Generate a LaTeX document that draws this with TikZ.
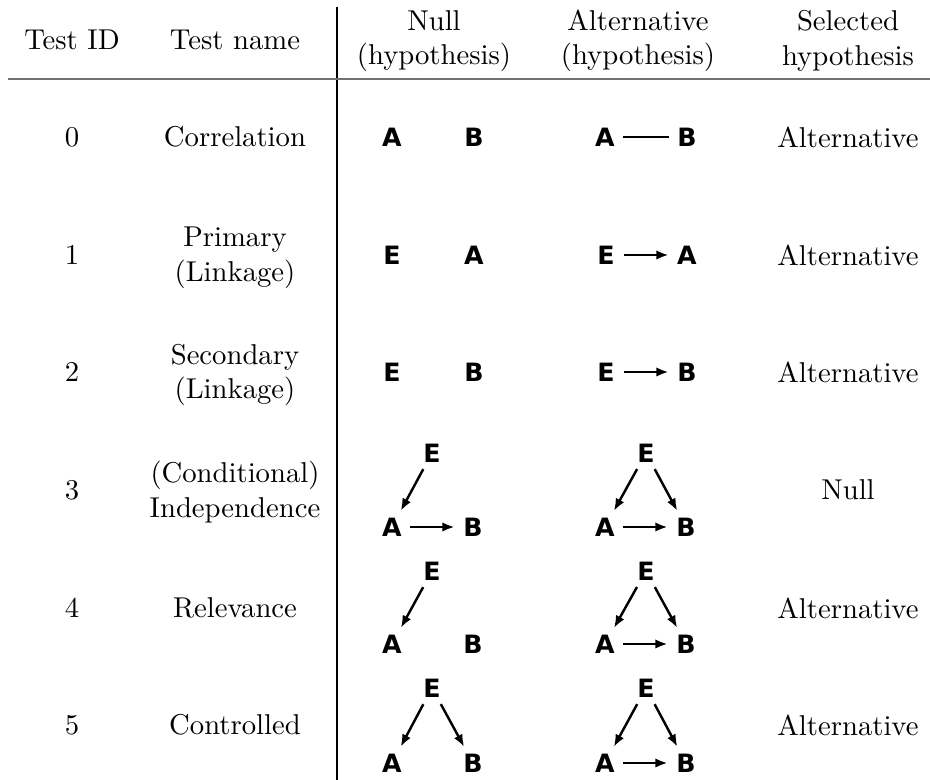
\documentclass[tikz,border=0pt]{standalone}
\usepackage{fontspec}
\newfontfamily\gsans{DejaVu Sans}
\usetikzlibrary{arrows.meta}
\begin{document}
\begin{tikzpicture}[x=0.3486pt,y=-0.3486pt,
  txt/.style={font=\fontsize{10}{12}\selectfont, align=center, inner sep=0pt},
  vtx/.style={circle, inner sep=0pt, minimum size=12.4pt, font=\gsans\bfseries\fontsize{8.8}{10}\selectfont},
  arr/.style={line width=0.85pt, -{Latex[length=4.3pt,width=3.3pt]}},
  undir/.style={line width=0.85pt},
  vrule/.style={line width=0.5pt},
  hrule/.style={black!55, line width=0.8pt}]
\useasboundingbox (0,0) rectangle (930,780);
% rules
\coordinate (vt) at (337,7);
\coordinate (vb) at (337,780);
\coordinate (hl) at (8,79);
\coordinate (hr) at (930,79);
\draw[vrule] (vt) -- (vb);
\draw[hrule] (hl) -- (hr);
% header
\node[txt] (h1) at (72,40) {Test ID};
\node[txt] (h2) at (235,40) {Test name};
\node[txt] (h3) at (434,41) {Null\\(hypothesis)};
\node[txt] (h4) at (638,41) {Alternative\\(hypothesis)};
\node[txt] (h5) at (848,41) {Selected\\hypothesis};
% ids
\node[txt] (i0) at (72,137) {0};
\node[txt] (i1) at (72,255) {1};
\node[txt] (i2) at (72,372) {2};
\node[txt] (i3) at (72,490) {3};
\node[txt] (i4) at (72,608) {4};
\node[txt] (i5) at (72,725) {5};
% names
\node[txt] (n0) at (235,137) {Correlation};
\node[txt] (n1) at (235,258) {Primary\\(Linkage)};
\node[txt] (n2) at (235,375) {Secondary\\(Linkage)};
\node[txt] (n3) at (235,492) {(Conditional)\\Independence};
\node[txt] (n4) at (235,608) {Relevance};
\node[txt] (n5) at (235,725) {Controlled};
% selected
\node[txt] (s0) at (848,137) {Alternative};
\node[txt] (s1) at (848,255) {Alternative};
\node[txt] (s2) at (848,372) {Alternative};
\node[txt] (s3) at (848,490) {Null};
\node[txt] (s4) at (848,608) {Alternative};
\node[txt] (s5) at (848,725) {Alternative};
% row 0
\node[vtx] (a0n) at (392,137) {A};
\node[vtx] (b0n) at (474,137) {B};
\node[vtx] (a0a) at (605,137) {A};
\node[vtx] (b0a) at (687,137) {B};
\draw[undir] (a0a) -- (b0a);
% row 1
\node[vtx] (e1n) at (392,255) {E};
\node[vtx] (a1n) at (474,255) {A};
\node[vtx] (e1a) at (606,255) {E};
\node[vtx] (a1a) at (687,255) {A};
\draw[arr] (e1a) -- (a1a);
% row 2
\node[vtx] (e2n) at (392,372) {E};
\node[vtx] (b2n) at (474,372) {B};
\node[vtx] (e2a) at (606,372) {E};
\node[vtx] (b2a) at (687,372) {B};
\draw[arr] (e2a) -- (b2a);
% row 3
\node[vtx] (e3n) at (432,453) {E};
\node[vtx] (a3n) at (392,527) {A};
\node[vtx] (b3n) at (473,527) {B};
\draw[arr] (e3n) -- (a3n);
\draw[arr] (a3n) -- (b3n);
\node[vtx] (e3a) at (646,453) {E};
\node[vtx] (a3a) at (605,527) {A};
\node[vtx] (b3a) at (686,527) {B};
\draw[arr] (e3a) -- (a3a);
\draw[arr] (e3a) -- (b3a);
\draw[arr] (a3a) -- (b3a);
% row 4
\node[vtx] (e4n) at (432,571) {E};
\node[vtx] (a4n) at (392,644) {A};
\node[vtx] (b4n) at (473,644) {B};
\draw[arr] (e4n) -- (a4n);
\node[vtx] (e4a) at (646,571) {E};
\node[vtx] (a4a) at (605,644) {A};
\node[vtx] (b4a) at (686,644) {B};
\draw[arr] (e4a) -- (a4a);
\draw[arr] (e4a) -- (b4a);
\draw[arr] (a4a) -- (b4a);
% row 5
\node[vtx] (e5n) at (432,688) {E};
\node[vtx] (a5n) at (392,763) {A};
\node[vtx] (b5n) at (473,763) {B};
\draw[arr] (e5n) -- (a5n);
\draw[arr] (e5n) -- (b5n);
\node[vtx] (e5a) at (646,688) {E};
\node[vtx] (a5a) at (605,763) {A};
\node[vtx] (b5a) at (686,763) {B};
\draw[arr] (e5a) -- (a5a);
\draw[arr] (e5a) -- (b5a);
\draw[arr] (a5a) -- (b5a);
\end{tikzpicture}
\end{document}
